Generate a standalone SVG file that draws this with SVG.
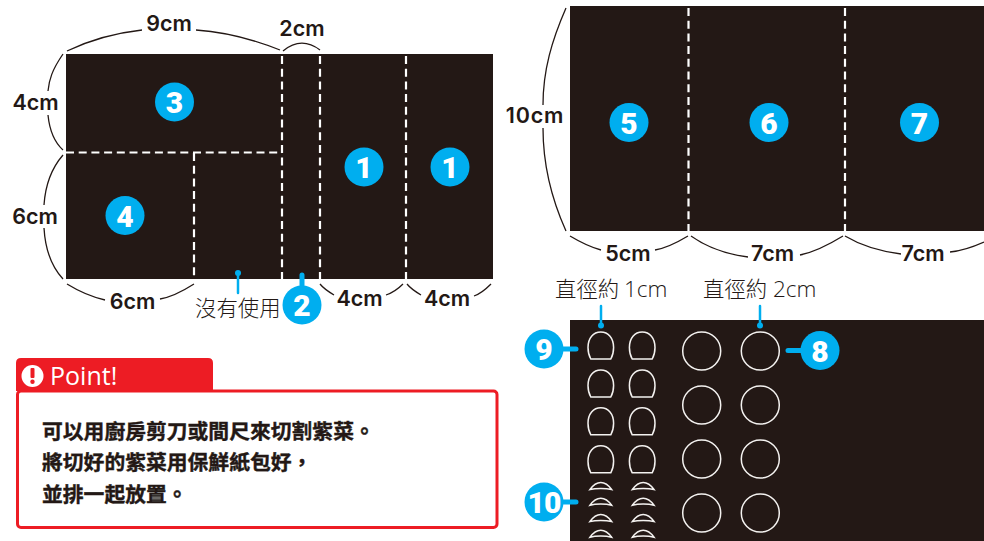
<svg xmlns="http://www.w3.org/2000/svg" xmlns:xlink="http://www.w3.org/1999/xlink" width="984" height="541" viewBox="0 0 984 541">
<style>
.sheet{fill:#231815}
.dash{fill:none;stroke:#fff;stroke-width:2.200;stroke-dasharray:8 4.700}
.brace{fill:none;stroke:#231815;stroke-width:1.300}
.tick{fill:none;stroke:#00aeef;stroke-linecap:round;stroke-width:2.500}
.tickb{fill:none;stroke:#00aeef;stroke-linecap:round;stroke-width:5}
.dot{fill:#00aeef}
.badge{fill:#00aeef}
.num{font-family:"Roboto","Liberation Sans",sans-serif;font-weight:900;font-size:30px;fill:#fff;text-anchor:middle}
.dim{font-family:"Inter","Liberation Sans",sans-serif;font-weight:600;font-size:21.500px;fill:#231815;text-anchor:middle}
.cjk{font-family:"Noto Sans CJK TC",sans-serif;font-weight:300;font-size:21.400px;fill:#231815}
.cm{font-family:"Open Sans","Noto Sans",sans-serif;font-size:22.500px;fill:#231815}
.body{font-family:"Noto Sans CJK TC",sans-serif;font-weight:700;font-size:20.800px;fill:#231815;stroke:#231815;stroke-width:.4}
.cut{fill:none;stroke:#f4f2f0;stroke-width:1.500}
</style>
<defs>
<path id="half" class="cut" d="M-10,27 C-12,23.500 -12.800,20 -12.800,15.500 C-12.800,6 -7.500,0 0,0 C7.500,0 12.800,6 12.800,15.500 C12.800,20 12,23.500 10,27 Z"/>
<path id="lens" class="cut" d="M-10.800,7 C-8,3 -5,0 0,0 C5,0 8,3 10.800,7 C5,5.500 -5,5.500 -10.800,7 Z"/>
<circle id="round" class="cut" r="19"/>
</defs>

<g id="sheet-a">
<rect class="sheet" x="66" y="54" width="427" height="225"/>
<path class="dash" d="M282,56V279M320,56V279M406,56V279M66,152.500H282M194,153V279"/>
</g>
<g id="sheet-b">
<rect class="sheet" x="570" y="6" width="414" height="225"/>
<path class="dash" d="M688.500,8V231M845,8V231"/>
</g>
<g id="sheet-c">
<rect class="sheet" x="570" y="320" width="414" height="221"/>
</g>

<g id="cuts-half">
<use xlink:href="#half" href="#half" x="600.800" y="332"/><use xlink:href="#half" href="#half" x="642.200" y="332"/>
<use xlink:href="#half" href="#half" x="600.800" y="370"/><use xlink:href="#half" href="#half" x="642.200" y="370"/>
<use xlink:href="#half" href="#half" x="600.800" y="407.800"/><use xlink:href="#half" href="#half" x="642.200" y="407.800"/>
<use xlink:href="#half" href="#half" x="600.800" y="445.800"/><use xlink:href="#half" href="#half" x="642.200" y="445.800"/>
</g>
<g id="cuts-lens">
<use xlink:href="#lens" href="#lens" x="600.800" y="482.500"/><use xlink:href="#lens" href="#lens" x="643.200" y="482.500"/>
<use xlink:href="#lens" href="#lens" x="600.800" y="498.200"/><use xlink:href="#lens" href="#lens" x="643.200" y="498.200"/>
<use xlink:href="#lens" href="#lens" x="600.800" y="514.500"/><use xlink:href="#lens" href="#lens" x="643.200" y="514.500"/>
<use xlink:href="#lens" href="#lens" x="600.800" y="530.200"/><use xlink:href="#lens" href="#lens" x="643.200" y="530.200"/>
</g>
<g id="cuts-round">
<use xlink:href="#round" href="#round" x="701.700" y="351"/><use xlink:href="#round" href="#round" x="760.300" y="351"/>
<use xlink:href="#round" href="#round" x="701.700" y="405"/><use xlink:href="#round" href="#round" x="760.300" y="405"/>
<use xlink:href="#round" href="#round" x="701.700" y="459"/><use xlink:href="#round" href="#round" x="760.300" y="459"/>
<use xlink:href="#round" href="#round" x="701.700" y="513"/><use xlink:href="#round" href="#round" x="760.300" y="513"/>
</g>

<g id="connectors">
<path class="brace" d="M67,51C90,40 115,33 142,30M196,30C225,32 255,40 280,50M283,51C295,41 308,41 320,50M63,54C52,70 49,80 48,91M48,115C49,125 52,140 63,150M63,155C50,170 45,190 44,205M44,228C45,245 50,265 63,279M67,284C80,292 92,297 105,300M160,299C172,297 183,291 194,284M320,284C324,289 329,292 334,295M386,295C392,293 398,289 403,284M407,284C411,289 416,292 421,295M474,296C480,294 486,289 491,284"/>
<path class="brace" d="M566,8C552,40 543,70 543,105M543,128C543,165 552,200 566,231M570,236C580,242 590,247 601,250M655,250C667,248 678,242 688,236M691,236C705,246 725,254 748,257M800,255C815,252 830,244 843,236M845,236C860,245 878,251 901,254M950,252C960,251 975,246 984,242"/>
<path class="tick" d="M238,272V293M601,306V325M760,306V325"/>
<circle class="dot" cx="238" cy="273" r="3"/><circle class="dot" cx="601" cy="325.500" r="3"/><circle class="dot" cx="760" cy="325.500" r="3"/>
<path class="tickb" d="M302,275V300M550,349H576M550,502H576M788,350.500H815"/>
</g>

<g id="node-1a"><circle class="badge" cx="364" cy="167" r="19.500"/><text class="num" x="364" y="178">1</text></g>
<g id="node-1b"><circle class="badge" cx="450" cy="167" r="19.500"/><text class="num" x="450" y="178">1</text></g>
<g id="node-2"><circle class="badge" cx="302" cy="305" r="19.500"/><text class="num" x="302" y="316">2</text></g>
<g id="node-3"><circle class="badge" cx="174.500" cy="102" r="19.500"/><text class="num" x="174.500" y="113">3</text></g>
<g id="node-4"><circle class="badge" cx="125" cy="215.500" r="19.500"/><text class="num" x="125" y="226.500">4</text></g>
<g id="node-5"><circle class="badge" cx="629" cy="122.500" r="19.500"/><text class="num" x="629" y="133.500">5</text></g>
<g id="node-6"><circle class="badge" cx="769" cy="122.500" r="19.500"/><text class="num" x="769" y="133.500">6</text></g>
<g id="node-7"><circle class="badge" cx="919.500" cy="122.500" r="19.500"/><text class="num" x="919.500" y="133.500">7</text></g>
<g id="node-8"><circle class="badge" cx="820" cy="350.500" r="19.500"/><text class="num" x="820" y="361.500">8</text></g>
<g id="node-9"><circle class="badge" cx="544" cy="349" r="19.500"/><text class="num" x="544" y="360">9</text></g>
<g id="node-10"><circle class="badge" cx="544" cy="502" r="19.500"/><text class="num" x="544" y="513" style="letter-spacing:-1px">10</text></g>

<g id="dimension-labels">
<text class="dim" x="169" y="31">9cm</text>
<text class="dim" x="302" y="36">2cm</text>
<text class="dim" x="35.500" y="110">4cm</text>
<text class="dim" x="35" y="223.500">6cm</text>
<text class="dim" x="132.500" y="308.500">6cm</text>
<text class="dim" x="359.500" y="305.500">4cm</text>
<text class="dim" x="447" y="305.500">4cm</text>
<text class="dim" x="535" y="122.500" style="letter-spacing:.8px">10cm</text>
<text class="dim" x="628" y="260.500">5cm</text>
<text class="dim" x="772.500" y="260.500">7cm</text>
<text class="dim" x="923" y="260.500">7cm</text>
</g>
<g id="unused-labels">
<text class="cjk" x="195" y="316">沒有使用</text>
<text class="cjk" x="866" y="446">沒有使用</text>
</g>
<g id="size-labels">
<text class="cjk" x="555" y="297">直徑約<tspan class="cm" x="624">1cm</tspan></text>
<text class="cjk" x="703" y="297">直徑約<tspan class="cm" x="773">2cm</tspan></text>
</g>

<g id="point-box">
<rect x="17.500" y="391" width="479.500" height="136.500" rx="3.500" fill="#fff" stroke="#ed1c24" stroke-width="3"/>
<path d="M16,393V363Q16,358 21,358H208Q213,358 213,363V391H16Z" fill="#ed1c24"/>
<circle cx="32.500" cy="376" r="11" fill="#fff"/>
<rect x="30.500" y="368" width="4" height="10" rx="1" fill="#ed1c24"/>
<circle cx="32.500" cy="381.800" r="2.200" fill="#ed1c24"/>
<text x="50" y="385" font-family="'Open Sans','Noto Sans',sans-serif" font-size="25" fill="#fff">Point!</text>
<text class="body" x="42" y="438.500">可以用廚房剪刀或間尺來切割紫菜。</text>
<text class="body" x="42" y="470">將切好的紫菜用保鮮紙包好，</text>
<text class="body" x="42" y="502">並排一起放置。</text>
</g>
</svg>
